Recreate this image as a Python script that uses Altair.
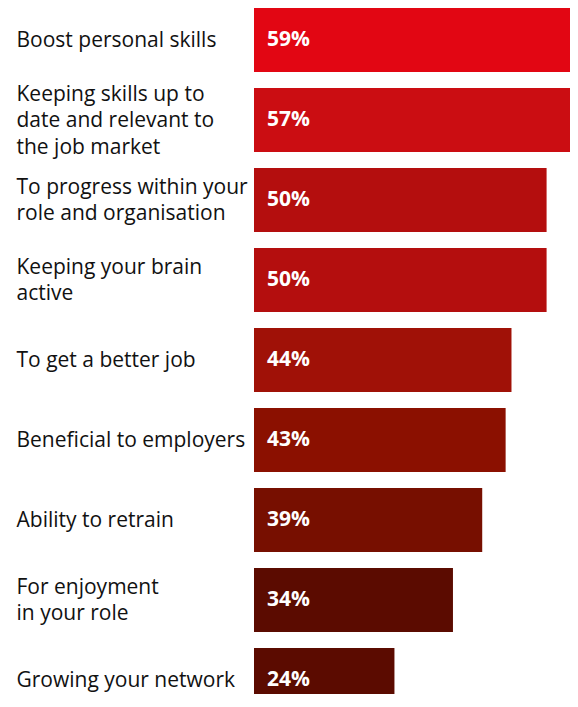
import altair as alt
import pandas as pd
import json

categories = [
    "Boost personal skills",
    "Keeping skills up to|date and relevant to|the job market",
    "To progress within your|role and organisation",
    "Keeping your brain|active",
    "To get a better job",
    "Beneficial to employers",
    "Ability to retrain",
    "For enjoyment|in your role",
    "Growing your network",
]
values = [59, 57, 50, 50, 44, 43, 39, 34, 24]
colors = ["#E20613", "#CB0D12", "#B40E0E", "#B40E0E", "#A01107",
          "#8B1000", "#770F00", "#5B0B00", "#5B0B00"]

idx = list(range(len(categories)))
df = pd.DataFrame({"idx": idx, "reason": categories, "pct": values,
                   "color": colors, "label": [f"{v}%" for v in values]})

cat_js = json.dumps(categories)
label_offset = {
    "condition": [
        {"test": f"length(split({cat_js}[datum.value], '|')) == 3", "value": -26},
        {"test": f"length(split({cat_js}[datum.value], '|')) == 2", "value": -13},
    ],
    "value": 0,
}

y_scale = alt.Scale(domain=[-0.4, 8.175], reverse=True, nice=False,
                    zero=False, padding=0)

y_enc = alt.Y("idx:Q", scale=y_scale,
              axis=alt.Axis(title=None, domain=False, ticks=False, grid=False,
                            values=idx,
                            labelAlign="left", labelPadding=238, labelFontSize=21,
                            labelFont="Open Sans", labelColor="#111111",
                            labelLineHeight=26.5, labelBaseline="middle",
                            labelLimit=0, labelOffset=label_offset,
                            labelFlush=False, labelOverlap=False,
                            labelExpr=f"split({cat_js}[datum.value], '|')"))

bars = alt.Chart(df).mark_bar(clip=True, orient="horizontal", size=64).encode(
    y=y_enc,
    x=alt.X("pct:Q", scale=alt.Scale(domain=[0, 54.0], nice=False, zero=True,
                                     padding=0, clamp=True),
            axis=None),
    color=alt.Color("color:N", scale=None),
)

text = alt.Chart(df).mark_text(align="left", baseline="middle", dx=13,
                               font="Open Sans", fontSize=21, fontWeight="bold",
                               color="white").encode(
    y=alt.Y("idx:Q"),
    x=alt.datum(0),
    text="label:N",
)

chart = (bars + text).properties(
    width=316, height=686,
    autosize=alt.AutoSizeParams(type="none"),
    padding={"left": 246, "top": 0, "right": 0, "bottom": 0},
).configure_view(stroke=None)

chart.save("out.html", embed_options={"renderer": "svg", "actions": False})
